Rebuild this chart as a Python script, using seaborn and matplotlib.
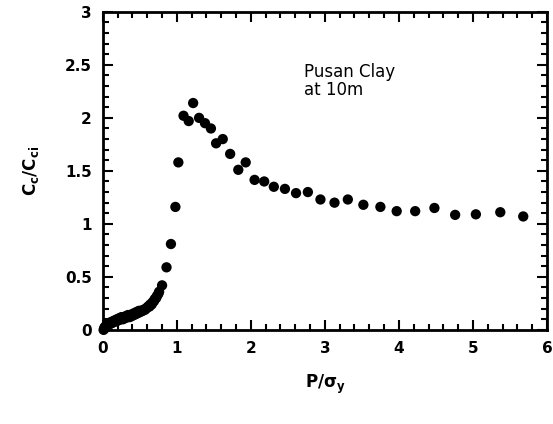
import numpy as np
import pandas as pd
import seaborn as sns
import matplotlib.pyplot as plt
from matplotlib.ticker import MultipleLocator

# P/sigma_y and Cc/Cci
p_ratio = [0.01, 0.02, 0.03, 0.04, 0.05, 0.06, 0.07, 0.08, 0.10, 0.11, 0.13,
           0.14, 0.16, 0.18, 0.19, 0.21, 0.22, 0.24, 0.25, 0.27, 0.28, 0.30,
           0.31, 0.33, 0.34, 0.36, 0.37, 0.39, 0.40, 0.42, 0.43, 0.45, 0.46,
           0.48, 0.49, 0.51, 0.52, 0.54, 0.55, 0.57, 0.58, 0.60, 0.61, 0.63,
           0.64, 0.66, 0.67, 0.69, 0.70, 0.72, 0.73, 0.75, 0.76, 0.80, 0.86,
           0.92, 0.98, 1.02, 1.09, 1.16, 1.22, 1.30, 1.38, 1.46, 1.53, 1.62,
           1.72, 1.83, 1.93, 2.05, 2.18, 2.31, 2.46, 2.61, 2.77, 2.94, 3.13,
           3.31, 3.52, 3.75, 3.97, 4.22, 4.48, 4.76, 5.04, 5.37, 5.68]
cc_ratio = [0.00, 0.02, 0.03, 0.02, 0.04, 0.05, 0.04, 0.06, 0.07, 0.06, 0.08,
            0.07, 0.09, 0.08, 0.10, 0.09, 0.11, 0.10, 0.12, 0.10, 0.12, 0.11,
            0.13, 0.12, 0.14, 0.12, 0.14, 0.13, 0.15, 0.14, 0.16, 0.15, 0.17,
            0.16, 0.18, 0.17, 0.18, 0.18, 0.19, 0.19, 0.20, 0.21, 0.22, 0.22,
            0.24, 0.24, 0.26, 0.27, 0.29, 0.30, 0.32, 0.34, 0.36, 0.42, 0.59,
            0.81, 1.16, 1.58, 2.02, 1.97, 2.14, 2.00, 1.95, 1.90, 1.76, 1.80,
            1.66, 1.51, 1.58, 1.415, 1.40, 1.35, 1.33, 1.29, 1.30, 1.23, 1.20,
            1.23, 1.18, 1.16, 1.12, 1.12, 1.15, 1.085, 1.09, 1.11, 1.07]

df = pd.DataFrame({'P': p_ratio, 'Cc': cc_ratio})

sns.set_style('ticks')
plt.rcParams['font.family'] = ['DejaVu Sans']

fig = plt.figure(figsize=(5.53, 4.24), dpi=100)
ax = fig.add_axes([0.186, 0.222, 0.803, 0.750])

sns.scatterplot(data=df, x='P', y='Cc', ax=ax, color='black', s=55,
                edgecolor='none', legend=False, clip_on=False)

ax.set_xlim(0, 6)
ax.set_ylim(0, 3)
ax.xaxis.set_major_locator(MultipleLocator(1))
ax.xaxis.set_minor_locator(MultipleLocator(0.2))
ax.yaxis.set_major_locator(MultipleLocator(0.5))
ax.yaxis.set_minor_locator(MultipleLocator(0.1))
ax.set_xticks([0, 1, 2, 3, 4, 5, 6])
ax.set_xticklabels(['0', '1', '2', '3', '4', '5', '6'])
ax.set_yticks([0, 0.5, 1, 1.5, 2, 2.5, 3])
ax.set_yticklabels(['0', '0.5', '1', '1.5', '2', '2.5', '3'])

for side in ['top', 'right', 'left', 'bottom']:
    ax.spines[side].set_visible(True)
    ax.spines[side].set_linewidth(2)
    ax.spines[side].set_color('black')
ax.tick_params(which='both', direction='in', top=True, right=True,
               labelsize=11, width=1.5, colors='black')
ax.tick_params(which='major', length=7, pad=8)
ax.tick_params(which='minor', length=4)
for lbl in ax.get_xticklabels() + ax.get_yticklabels():
    lbl.set_fontweight('bold')

ax.set_xlabel(r'P/$\mathregular{\sigma_y}$', fontsize=12, fontweight='bold',
              labelpad=12, color='black')
ax.set_ylabel(r'C$\mathregular{_c}$/C$\mathregular{_{ci}}$', fontsize=12,
              fontweight='bold', labelpad=17, color='black')

ax.text(2.72, 2.52, 'Pusan Clay\nat 10m', fontsize=12, va='top', ha='left',
        linespacing=1.0, color='black')

plt.savefig('out.png', dpi=100)
